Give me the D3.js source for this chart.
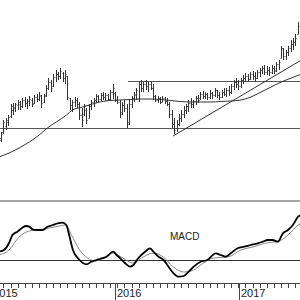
<!DOCTYPE html>
<html>
<head>
<meta charset="utf-8">
<script src="https://cdn.jsdelivr.net/npm/d3@7/dist/d3.min.js"></script>
<style>
  body { margin: 0; background: #fff; }
  svg { display: block; }
  text { font-family: "Liberation Sans", Arial, sans-serif; }
</style>
</head>
<body>
<svg width="300" height="300"></svg>
<script>
// weekly bars, first bar dated 2015-01-23
const firstWeek = new Date(2015, 0, 23);
// [open, high, low, close]
const ohlc = [
  [59,66,56,63],[61,69,59,67],[69,81,67,79],[75,83,71,81],[79,86,75,84],
  [85,97,83,95],[91,98,86,94],[93,98,89,97],[96,101,91,99],[97,100,91,95],
  [95,103,93,101],[101,104,94,98],[98,102,92,100],[100,105,95,102],[101,103,94,97],
  [98,106,97,104],[104,107,99,102],[102,109,100,106],[105,106,93,98],[99,107,98,105],
  [106,116,104,113],[113,123,111,119],[119,121,109,113],[115,127,114,124],[124,131,119,127],
  [127,129,121,125],[125,133,122,130],[128,129,119,123],[123,131,117,127],[125,125,101,104],
  [103,103,91,96],[96,101,89,99],[99,104,94,101],[101,103,93,97],[97,99,81,86],
  [86,93,74,81],[87,97,85,95],[91,93,77,81],[83,97,83,95],[95,101,91,99],
  [99,103,94,101],[101,107,98,105],[105,106,99,102],[102,108,100,106],[106,109,101,104],
  [104,108,100,106],[106,107,100,102],[102,111,101,109],[109,117,102,113],[108,109,99,101],
  [101,105,97,99],[99,101,83,87],[89,99,86,96],[96,101,89,93],[93,97,73,77],
  [79,101,76,97],[97,105,93,103],[103,109,99,107],[106,113,101,111],[103,119,99,117],
  [117,121,109,113],[113,119,109,117],[117,121,111,115],[115,119,109,117],[117,120,111,113],
  [113,117,101,105],[105,106,99,101],[101,105,98,103],[103,104,97,99],[99,105,99,103],
  [103,104,97,100],[100,103,95,97],[97,99,83,87],[87,91,73,77],[77,83,67,71],
  [73,81,69,77],[77,87,75,83],[83,91,79,87],[87,95,83,91],[91,97,87,95],
  [95,101,89,98],[98,103,93,97],[97,101,93,100],[100,105,96,103],[103,106,98,101],
  [103,109,101,107],[107,110,102,105],[105,109,102,107],[107,108,101,104],[104,111,102,108],
  [108,109,102,106],[106,113,104,111],[111,111,103,106],[106,109,101,104],[104,111,103,109],
  [109,113,105,107],[107,113,104,111],[111,115,105,109],[109,117,107,115],[115,121,111,119],
  [119,123,113,117],[117,121,111,115],[115,123,113,121],[121,126,117,123],[123,128,119,125],
  [125,127,119,122],[122,129,121,127],[127,130,121,125],[125,129,119,123],[123,131,122,129],
  [129,133,124,131],[131,135,127,133],[133,136,126,129],[129,135,126,131],[131,134,125,129],
  [129,136,127,133],[133,135,127,130],[131,139,129,137],[137,141,131,139],[143,155,143,153],
  [153,153,141,145],[145,151,141,149],[149,155,145,153],[153,161,149,157],[157,163,151,159],
  [159,167,155,163],[167,179,167,175]
];

// long moving average, read at week positions
const maWeeks  = [0, 4.4, 8.6, 12.9, 17.1, 20.5, 24.3, 28.6, 31.1, 35.4, 39.6, 42.6, 46.9, 51.1, 55.4, 59.6,
  63.8, 68.1, 72.3, 76.6, 80.8, 85.1, 89.3, 93.6, 97.8, 102.1, 106.3, 110.6, 114.8, 119.1, 123.3, 127.6];
const maValues = [44, 48, 53, 59, 66, 73, 79, 86, 91, 94, 97, 99, 100.5, 101, 101.5, 102,
  102, 101.5, 100.5, 99.5, 99, 99, 99, 99.5, 100, 101, 104, 109, 114, 119, 123, 127];

// horizontal levels and the rising trend line
const supportLevel = 73;
const resistanceLevel = 120;
const resistanceStartWeek = 54.5;
const trendWeeks = [73.5, 127.6];
const trendValues = [65, 141];

// MACD panel
const macdWeeks = [0, 2.2, 4.4, 5.8, 7.9, 10, 11.5, 12.9, 14.3, 15.7, 18.5, 20.6, 22.8, 24.9, 27, 28.5,
  29.9, 31.3, 34.1, 37, 39.1, 41.2, 42.6, 45.5, 48.3, 49.7, 51.1, 53.2, 55.4, 56.8, 58.9, 61.7,
  63.8, 65.2, 67.4, 69.5, 71.6, 73.7, 75.9, 78, 80.1, 82.2, 85.1, 87.9, 91.5, 93.6, 95.7, 97.8,
  100.7, 103.5, 106.3, 109.2, 111.3, 113.4, 115.5, 117.7, 119.8, 121.9, 124, 126.2, 127.6];
const macdValues = [0.83, 1.0, 1.7, 2.5, 2.83, 3.23, 3.4, 3.33, 3.07, 3.0, 3.0, 3.33, 3.5, 3.67, 3.73, 3.5,
  2.33, 1.0, 0, -0.43, -0.17, 0, 0.1, 0.33, 0.83, 0.5, 0.2, -0.3, -0.67, -0.5, 0.2, 0.83,
  1.17, 0.83, 0.33, 0, -0.67, -1.33, -1.67, -1.6, -1.17, -0.67, -0.17, 0, 0.67, 0.5, 0.33, 0.67,
  1.17, 1.33, 1.5, 1.67, 1.83, 2.0, 2.0, 1.83, 2.67, 3.0, 3.5, 4.33, 4.5];
const signalWeeks = [0, 4.4, 8.6, 12.9, 19.2, 25.6, 28.2, 30.7, 34.1, 37.5, 40.5, 42.6, 48.1, 52.4, 56.6, 60.9,
  65.1, 69.4, 73.6, 77.9, 82.1, 85.1, 90.6, 96.6, 102.1, 107.6, 113.4, 117.7, 121.9, 126.2, 127.6];
const signalValues = [0.5, 1.0, 2.3, 2.9, 3.1, 3.4, 3.5, 2.5, 1.0, 0.2, -0.1, 0, 0.7, 0.2, -0.3, 0.3,
  0.7, 0.3, -0.7, -1.2, -1.0, -0.5, 0.2, 0.3, 1.0, 1.33, 1.73, 1.83, 2.5, 3.5, 3.7];

const yearLabels = ['2015', '2016', '2017'];

const svg = d3.select('svg');
const width = +svg.attr('width');
const priceBottom = 201;
const macdBottom = 283;

const weekDate = w => new Date(firstWeek.getTime() + w * 7 * 864e5);

const xScale = d3.scaleTime()
  .domain([new Date(2015, 0, 27), new Date(2017, 5, 30)])
  .range([0, width]);
const xw = w => xScale(weekDate(w));

const priceScale = d3.scaleLinear().domain([0, 201]).range([priceBottom, 0]);
const macdScale = d3.scaleLinear().domain([-2.3, 5.9]).range([macdBottom, priceBottom]);

const crisp = v => Math.round(v) + 0.5;

// reference lines in price panel
const levels = svg.append('g').attr('class', 'levels')
  .attr('stroke', '#555').attr('stroke-width', 1);
levels.append('line')
  .attr('x1', 0).attr('x2', width)
  .attr('y1', crisp(priceScale(supportLevel))).attr('y2', crisp(priceScale(supportLevel)));
levels.append('line')
  .attr('x1', xw(resistanceStartWeek)).attr('x2', width)
  .attr('y1', crisp(priceScale(resistanceLevel))).attr('y2', crisp(priceScale(resistanceLevel)));
levels.append('line')
  .attr('x1', xw(trendWeeks[0])).attr('x2', xw(trendWeeks[1]))
  .attr('y1', priceScale(trendValues[0])).attr('y2', priceScale(trendValues[1]))
  .attr('stroke', '#333');

// moving average
const maLine = d3.line()
  .x((d, i) => xw(maWeeks[i]))
  .y(d => priceScale(d))
  .curve(d3.curveMonotoneX);
svg.append('path')
  .attr('d', maLine(maValues))
  .attr('fill', 'none').attr('stroke', '#333').attr('stroke-width', 1);

// OHLC bars
const bars = svg.append('g').attr('class', 'bars')
  .attr('stroke', '#333').attr('stroke-width', 1);
const bar = bars.selectAll('g.bar')
  .data(ohlc)
  .enter()
  .append('g')
    .attr('class', 'bar')
    .attr('transform', (d, i) => `translate(${crisp(xw(i))},0)`);
bar.append('line')
  .attr('x1', 0).attr('x2', 0)
  .attr('y1', d => priceScale(d[1])).attr('y2', d => priceScale(d[2]));
bar.append('line')
  .attr('x1', -1).attr('x2', 0)
  .attr('y1', d => crisp(priceScale(d[0]))).attr('y2', d => crisp(priceScale(d[0])));
bar.append('line')
  .attr('x1', 0).attr('x2', 1)
  .attr('y1', d => crisp(priceScale(d[3]))).attr('y2', d => crisp(priceScale(d[3])));

// panel separator
svg.append('line')
  .attr('x1', 0).attr('x2', width)
  .attr('y1', priceBottom).attr('y2', priceBottom)
  .attr('stroke', '#888').attr('stroke-width', 1.5);

// MACD panel
svg.append('line')
  .attr('x1', 0).attr('x2', width)
  .attr('y1', crisp(macdScale(0))).attr('y2', crisp(macdScale(0)))
  .attr('stroke', '#333').attr('stroke-width', 1);

const signalLine = d3.line()
  .x((d, i) => xw(signalWeeks[i]))
  .y(d => macdScale(d))
  .curve(d3.curveMonotoneX);
svg.append('path')
  .attr('d', signalLine(signalValues))
  .attr('fill', 'none').attr('stroke', '#888').attr('stroke-width', 1);

const macdLine = d3.line()
  .x((d, i) => xw(macdWeeks[i]))
  .y(d => macdScale(d))
  .curve(d3.curveMonotoneX);
svg.append('path')
  .attr('d', macdLine(macdValues))
  .attr('fill', 'none').attr('stroke', '#000').attr('stroke-width', 1.8);

svg.append('text')
  .attr('x', 170).attr('y', 240)
  .attr('font-size', 10).attr('fill', '#222')
  .text('MACD');

// time axis
const axis = svg.append('g').attr('class', 'axis');
axis.append('line')
  .attr('x1', 0).attr('x2', width)
  .attr('y1', macdBottom + 0.5).attr('y2', macdBottom + 0.5)
  .attr('stroke', '#444');
const minorTicks = d3.range(-1, ohlc.length + 2, 3).map(weekDate);
axis.selectAll('line.minor')
  .data(minorTicks)
  .enter()
  .append('line')
    .attr('class', 'minor')
    .attr('x1', d => crisp(xScale(d))).attr('x2', d => crisp(xScale(d)))
    .attr('y1', macdBottom).attr('y2', macdBottom + 5)
    .attr('stroke', '#444');
const yearTicks = yearLabels.map(y => new Date(+y, 0, 1));
axis.selectAll('line.year')
  .data(yearTicks)
  .enter()
  .append('line')
    .attr('class', 'year')
    .attr('x1', d => crisp(xScale(d))).attr('x2', d => crisp(xScale(d)))
    .attr('y1', macdBottom).attr('y2', 300)
    .attr('stroke', '#444');
axis.selectAll('text.year')
  .data(yearTicks)
  .enter()
  .append('text')
    .attr('class', 'year')
    .attr('x', d => xScale(d) + 2)
    .attr('y', 297)
    .attr('font-size', 11).attr('fill', '#222')
    .text((d, i) => yearLabels[i]);
</script>
</body>
</html>
